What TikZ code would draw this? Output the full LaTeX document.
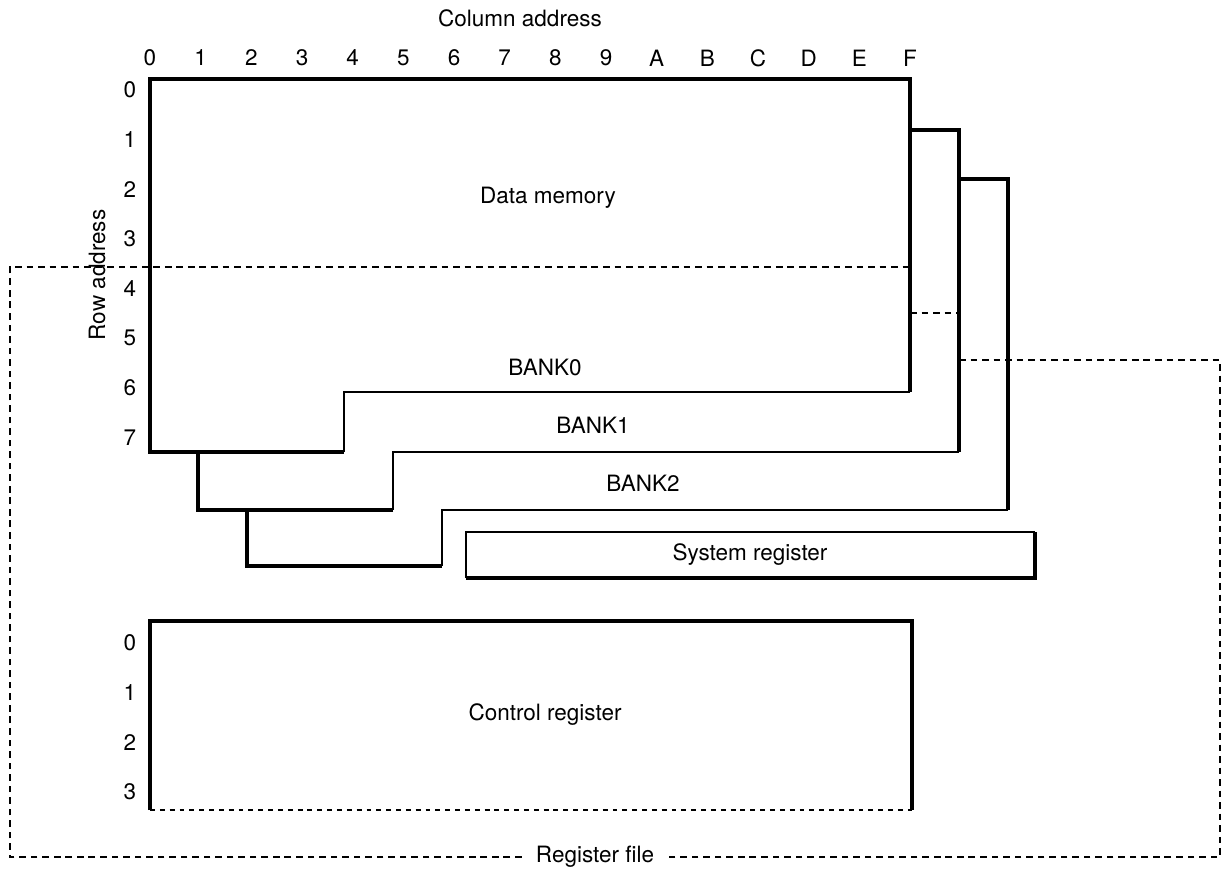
\documentclass[tikz,border=0pt]{standalone}
\usepackage{fontspec}
\setmainfont{TeX Gyre Heros}

\begin{document}
\begin{tikzpicture}[line join=miter,
    heavy/.style={line width=2.5pt},
    light/.style={line width=1.0pt},
    regline/.style={line width=1.4pt, dash pattern=on 4.7pt off 3.5pt},
    lbl/.style={font=\fontsize{16}{19}\selectfont, inner sep=1pt}]
  \useasboundingbox (0,0) rectangle (30.625,21.75);
  % address labels
  \node[lbl] (coladdr) at (13.0,21.3) {Column address};
  \foreach \c [count=\i from 0] in {0,1,2,3,4,5,6,7,8,9,A,B,C,D,E,F}
    \node[lbl] (col\c) at ({3.75+1.2667*\i},20.3) {\c};
  \foreach \r in {0,...,7}
    \node[lbl] (row\r) at (3.25,{19.5-1.24*\r}) {\r};
  \node[lbl, rotate=90] (rowaddr) at (2.425,14.875) {Row address};
  % BANK0
  \draw[heavy] (22.75,11.95) -- (22.75,19.775) -- (3.75,19.775) -- (3.75,10.45) -- (8.6,10.45);
  \draw[light] (8.6,10.45) -- (8.6,11.95) -- (22.75,11.95);
  % BANK1
  \draw[heavy] (22.75,18.5) -- (23.975,18.5) -- (23.975,10.45);
  \draw[light] (23.975,10.45) -- (9.825,10.45) -- (9.825,9.0);
  \draw[heavy] (9.825,9.0) -- (4.95,9.0) -- (4.95,10.45);
  % BANK2
  \draw[heavy] (23.975,17.275) -- (25.2,17.275) -- (25.2,9.0);
  \draw[light] (25.2,9.0) -- (11.05,9.0) -- (11.05,7.6);
  \draw[heavy] (11.05,7.6) -- (6.175,7.6) -- (6.175,9.0);
  \node[lbl] (datamem) at (13.7,16.8) {Data memory};
  \node[lbl] (bank0) at (13.625,12.575) {BANK0};
  \node[lbl] (bank1) at (14.825,11.125) {BANK1};
  \node[lbl] (bank2) at (16.075,9.675) {BANK2};
  % system register
  \draw[light] (11.65,7.3) -- (11.65,8.45) -- (25.875,8.45);
  \draw[heavy] (25.875,8.45) -- (25.875,7.3) -- (11.65,7.3);
  \node[lbl] (sysreg) at (18.75,7.875) {System register};
  % control register
  \draw[heavy] (3.75,1.5) -- (3.75,6.225) -- (22.8,6.225) -- (22.8,1.5);
  \draw[line width=0.8pt, dash pattern=on 3.5pt off 3.5pt] (3.75,1.5) -- (22.8,1.5);
  \foreach \r in {0,...,3}
    \node[lbl] (crow\r) at (3.25,{5.675-1.2417*\r}) {\r};
  \node[lbl] (ctrlreg) at (13.625,3.875) {Control register};
  % register file
  \node[lbl, fill=white, inner xsep=10pt] (regfile) at (14.875,0.325) {Register file};
  \draw[regline] (regfile.west) -- (0.25,0.325) -- (0.25,15.075) -- (22.75,15.075);
  \draw[regline] (22.75,13.925) -- (23.975,13.925);
  \draw[regline] (23.975,12.75) -- (30.5,12.75) -- (30.5,0.325) -- (regfile.east);
\end{tikzpicture}
\end{document}
